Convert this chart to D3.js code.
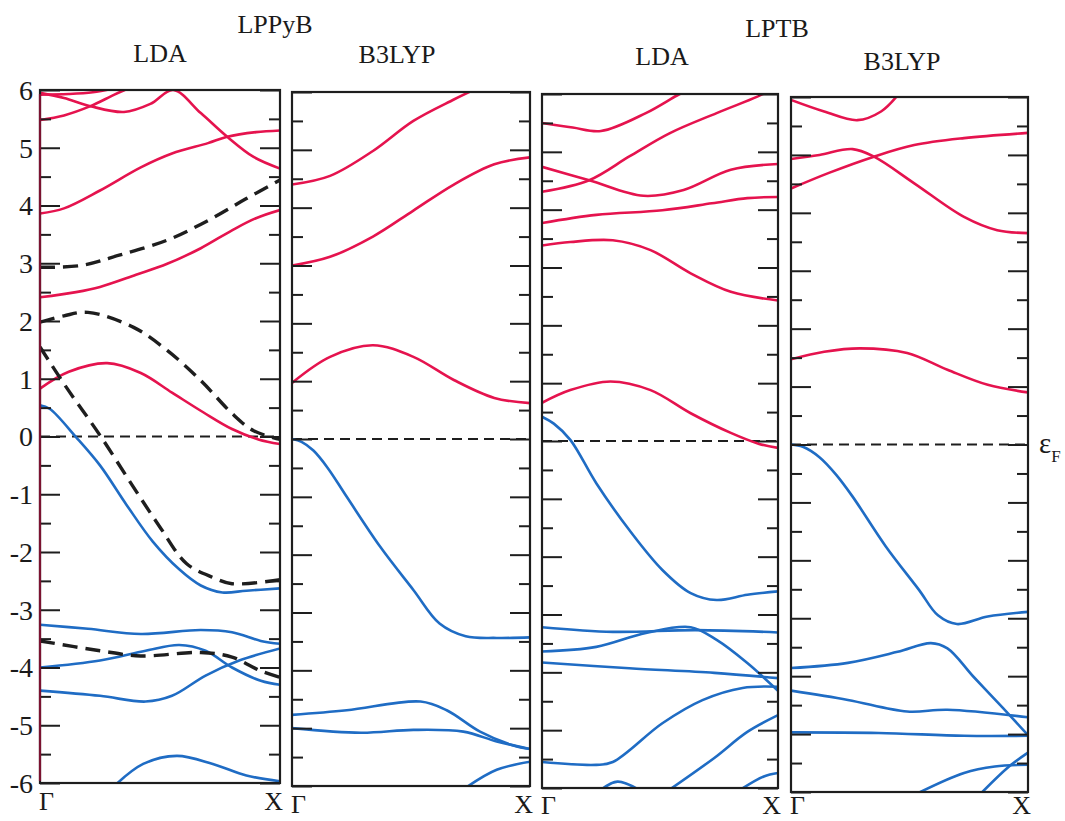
<!DOCTYPE html>
<html>
<head>
<meta charset="utf-8">
<script src="https://cdn.jsdelivr.net/npm/d3@7"></script>
<style>
  body { margin: 0; background: #fff; }
  text { font-family: "Liberation Serif", "Times New Roman", serif; fill: #1a1a1a; }
</style>
</head>
<body>
<svg id="chart" width="1065" height="821"></svg>
<script>
// Energy axis (eV relative to the Fermi level)
const energyTicks = [6, 5, 4, 3, 2, 1, 0, -1, -2, -3, -4, -5, -6];
const energyMinorTicks = [5.5, 4.5, 3.5, 2.5, 1.5, 0.5, -0.5, -1.5, -2.5, -3.5, -4.5, -5.5];
const kPointLabels = ["Γ", "X"];
const methodTitles = ["LDA", "B3LYP", "LDA", "B3LYP"];
const polymerTitles = ["LPPyB", "LPTB"];

// Bands along Γ→X; k runs from 0 (Γ) to 1 (X), values are energies in eV.
// LPPyB, LDA
const lppybLdaCond = [
  [[0, 0.83], [0.12, 1.12], [0.28, 1.27], [0.42, 1.1], [0.55, 0.76], [0.68, 0.42], [0.8, 0.13], [0.91, -0.05], [1, -0.13]],
  [[0, 2.41], [0.15, 2.5], [0.25, 2.59], [0.4, 2.8], [0.53, 2.99], [0.67, 3.26], [0.8, 3.57], [0.9, 3.78], [1, 3.92]],
  [[0, 3.86], [0.1, 3.95], [0.25, 4.26], [0.42, 4.66], [0.55, 4.9], [0.7, 5.08], [0.78, 5.19], [0.9, 5.27], [1, 5.3]],
  [[0, 5.92], [0.12, 5.93], [0.22, 5.96], [0.31, 6.03]],
  [[0, 5.95], [0.1, 5.86], [0.21, 5.72], [0.35, 5.62], [0.46, 5.76], [0.555, 6.0], [0.67, 5.6], [0.78, 5.19], [0.89, 4.84], [1, 4.64]],
  [[0, 5.48], [0.1, 5.56], [0.21, 5.72], [0.31, 5.92], [0.37, 6.03]]
];
const lppybLdaVal = [
  [[0, 0.54], [0.04, 0.48], [0.15, -0.01], [0.25, -0.5], [0.36, -1.18], [0.47, -1.82], [0.58, -2.3], [0.67, -2.58], [0.76, -2.7], [0.86, -2.67], [1, -2.63]],
  [[0, -3.26], [0.2, -3.33], [0.42, -3.42], [0.67, -3.35], [0.8, -3.39], [0.92, -3.54], [1, -3.59]],
  [[0, -4.0], [0.25, -3.88], [0.44, -3.71], [0.58, -3.61], [0.69, -3.71], [0.8, -4.0], [0.92, -4.23], [1, -4.3]],
  [[0, -4.4], [0.25, -4.49], [0.44, -4.59], [0.55, -4.49], [0.69, -4.14], [0.83, -3.88], [1, -3.67]],
  [[0.31, -6.05], [0.43, -5.67], [0.57, -5.53], [0.72, -5.67], [0.86, -5.87], [1, -5.97]]
];
const lppybLdaDashed = [
  [[0, 2.93], [0.17, 2.96], [0.33, 3.14], [0.53, 3.4], [0.7, 3.74], [0.86, 4.12], [1, 4.44]],
  [[0, 1.98], [0.1, 2.09], [0.2, 2.15], [0.39, 1.89], [0.53, 1.49], [0.67, 0.97], [0.8, 0.4], [0.89, 0.1], [1, -0.05]],
  [[0, 1.55], [0.11, 0.85], [0.25, 0.02], [0.39, -0.88], [0.5, -1.57], [0.61, -2.2], [0.72, -2.44], [0.8, -2.55], [1, -2.48]],
  [[0, -3.54], [0.25, -3.71], [0.42, -3.8], [0.67, -3.74], [0.8, -3.82], [0.92, -4.06], [1, -4.17]]
];

// LPPyB, B3LYP
const lppybB3lypCond = [
  [[0, 0.97], [0.16, 1.42], [0.34, 1.62], [0.51, 1.42], [0.68, 1.02], [0.85, 0.71], [1, 0.62]],
  [[0, 3.0], [0.16, 3.15], [0.34, 3.5], [0.51, 3.95], [0.68, 4.4], [0.85, 4.75], [1, 4.87]],
  [[0, 4.4], [0.16, 4.55], [0.34, 4.98], [0.51, 5.5], [0.68, 5.87], [0.76, 6.03]]
];
const lppybB3lypVal = [
  [[0, 0.0], [0.04, -0.05], [0.09, -0.2], [0.15, -0.5], [0.23, -1.0], [0.37, -1.86], [0.51, -2.61], [0.62, -3.19], [0.73, -3.41], [0.86, -3.44], [1, -3.43]],
  [[0, -4.77], [0.23, -4.69], [0.54, -4.54], [0.65, -4.69], [0.79, -5.06], [0.93, -5.3], [1, -5.36]],
  [[0, -5.0], [0.29, -5.08], [0.51, -5.03], [0.72, -5.06], [0.86, -5.23], [1, -5.36]],
  [[0.73, -6.03], [0.86, -5.72], [1, -5.58]]
];

// LPTB, LDA
const lptbLdaCond = [
  [[0, 0.66], [0.12, 0.88], [0.29, 1.03], [0.46, 0.88], [0.63, 0.48], [0.8, 0.14], [0.92, -0.05], [1, -0.12]],
  [[0, 3.38], [0.12, 3.44], [0.3, 3.47], [0.46, 3.3], [0.63, 2.9], [0.8, 2.58], [1, 2.43]],
  [[0, 3.77], [0.23, 3.91], [0.51, 3.99], [0.72, 4.11], [0.87, 4.2], [1, 4.22]],
  [[0, 4.74], [0.2, 4.51], [0.43, 4.24], [0.6, 4.34], [0.8, 4.69], [1, 4.79]],
  [[0, 4.31], [0.2, 4.51], [0.37, 4.92], [0.54, 5.32], [0.74, 5.67], [0.91, 5.95], [0.95, 6.03]],
  [[0, 5.5], [0.13, 5.42], [0.25, 5.36], [0.44, 5.67], [0.57, 5.97], [0.6, 6.03]]
];
const lptbLdaVal = [
  [[0, 0.42], [0.05, 0.3], [0.12, 0.02], [0.23, -0.73], [0.37, -1.54], [0.51, -2.23], [0.63, -2.63], [0.74, -2.75], [0.87, -2.66], [1, -2.6]],
  [[0, -3.22], [0.3, -3.3], [0.65, -3.27], [1, -3.31]],
  [[0, -3.64], [0.23, -3.56], [0.44, -3.32], [0.63, -3.22], [0.74, -3.44], [0.87, -3.84], [1, -4.32]],
  [[0, -3.83], [0.37, -3.93], [0.73, -4.01], [1, -4.1]],
  [[0, -5.55], [0.23, -5.6], [0.3, -5.55], [0.51, -4.88], [0.68, -4.48], [0.85, -4.27], [1, -4.25]],
  [[0.25, -6.03], [0.32, -5.89], [0.41, -6.03]],
  [[0.54, -6.03], [0.73, -5.48], [0.87, -5.03], [1, -4.74]],
  [[0.84, -6.03], [0.94, -5.8], [1, -5.74]]
];

// LPTB, B3LYP
const lptbB3lypCond = [
  [[0, 1.47], [0.14, 1.6], [0.29, 1.66], [0.49, 1.58], [0.66, 1.29], [0.83, 1.03], [1, 0.9]],
  [[0, 4.42], [0.16, 4.69], [0.35, 4.97], [0.52, 5.17], [0.73, 5.29], [1, 5.38]],
  [[0, 4.93], [0.12, 5.0], [0.26, 5.1], [0.35, 4.97], [0.52, 4.51], [0.73, 3.93], [0.87, 3.7], [1, 3.65]],
  [[0, 5.95], [0.14, 5.75], [0.28, 5.6], [0.38, 5.75], [0.45, 6.03]]
];
const lptbB3lypVal = [
  [[0, 0.0], [0.05, -0.04], [0.12, -0.22], [0.19, -0.52], [0.26, -0.9], [0.4, -1.76], [0.54, -2.51], [0.62, -2.95], [0.7, -3.1], [0.83, -2.97], [1, -2.89]],
  [[0, -3.86], [0.24, -3.77], [0.45, -3.58], [0.59, -3.43], [0.66, -3.52], [0.77, -4.01], [0.89, -4.53], [1, -5.02]],
  [[0, -4.25], [0.24, -4.41], [0.49, -4.61], [0.66, -4.58], [1, -4.71]],
  [[0, -4.97], [0.37, -4.98], [0.73, -5.03], [1, -5.03]],
  [[0.53, -6.03], [0.73, -5.67], [0.86, -5.56], [1, -5.53]],
  [[0.8, -6.03], [0.92, -5.56], [1, -5.32]]
];

// Panel frames
const panels = [
  { x0: 40,  x1: 280,  y0: 90, y1: 783, cond: lppybLdaCond,   val: lppybLdaVal,   dashed: lppybLdaDashed },
  { x0: 292, x1: 530,  y0: 92, y1: 786, cond: lppybB3lypCond, val: lppybB3lypVal, dashed: [] },
  { x0: 542, x1: 778,  y0: 94, y1: 788, cond: lptbLdaCond,    val: lptbLdaVal,    dashed: [] },
  { x0: 791, x1: 1028, y0: 97, y1: 792, cond: lptbB3lypCond,  val: lptbB3lypVal,  dashed: [] }
];
const methodTitlePos = [[160, 62], [397, 63], [662, 65], [902, 70]];
const polymerTitlePos = [[275, 33], [777, 37]];

const condColor = "#e5134e";
const valColor = "#1f6cc4";
const inkColor = "#1e1e1e";

const svg = d3.select("#chart");

panels.forEach((p, i) => {
  const x = d3.scaleLinear().domain([0, 1]).range([p.x0, p.x1]);
  const y = d3.scaleLinear().domain([-6, 6]).range([p.y1, p.y0]);
  const line = d3.line().x(d => x(d[0])).y(d => y(d[1])).curve(d3.curveCatmullRom.alpha(0.5));

  const clipId = "clip" + i;
  svg.append("clipPath").attr("id", clipId)
    .append("rect").attr("x", p.x0).attr("y", p.y0)
    .attr("width", p.x1 - p.x0).attr("height", p.y1 - p.y0);

  const g = svg.append("g");
  const plot = g.append("g").attr("clip-path", `url(#${clipId})`);

  // Fermi level
  plot.append("path")
    .attr("d", line([[0, 0], [1, 0]]))
    .attr("fill", "none").attr("stroke", inkColor)
    .attr("stroke-width", 2).attr("stroke-dasharray", "10,6");

  plot.selectAll(".val").data(p.val).join("path")
    .attr("class", "val").attr("d", line)
    .attr("fill", "none").attr("stroke", valColor).attr("stroke-width", 2.6);

  plot.selectAll(".cond").data(p.cond).join("path")
    .attr("class", "cond").attr("d", line)
    .attr("fill", "none").attr("stroke", condColor).attr("stroke-width", 2.6);

  plot.selectAll(".dashed").data(p.dashed).join("path")
    .attr("class", "dashed").attr("d", line)
    .attr("fill", "none").attr("stroke", inkColor)
    .attr("stroke-width", 3.4).attr("stroke-dasharray", "15,8");

  // inward ticks on both sides
  const tickAxes = [
    [d3.axisRight(y).tickValues(energyTicks).tickSize(20), p.x0],
    [d3.axisRight(y).tickValues(energyMinorTicks).tickSize(11), p.x0],
    [d3.axisLeft(y).tickValues(energyTicks).tickSize(20), p.x1],
    [d3.axisLeft(y).tickValues(energyMinorTicks).tickSize(11), p.x1]
  ];
  tickAxes.forEach(([ax, xpos]) => {
    const a = g.append("g").attr("transform", `translate(${xpos},0)`)
      .call(ax.tickFormat(""));
    a.select(".domain").remove();
    a.selectAll("line").attr("stroke", inkColor).attr("stroke-width", 2);
  });

  // frame
  g.append("rect")
    .attr("x", p.x0).attr("y", p.y0)
    .attr("width", p.x1 - p.x0).attr("height", p.y1 - p.y0)
    .attr("fill", "none").attr("stroke", inkColor).attr("stroke-width", 2.2);
  if (i === 0) {
    g.append("line").attr("x1", p.x0).attr("x2", p.x0)
      .attr("y1", p.y0 + 4).attr("y2", p.y1 - 2)
      .attr("stroke", "#7a1230").attr("stroke-width", 2.2);
  }

  // k-point labels
  const kBase = Math.min(p.y1 + 27, 814);
  g.append("text").attr("x", p.x0 - 1).attr("y", kBase)
    .attr("font-size", 26).attr("text-anchor", "start").text(kPointLabels[0]);
  g.append("text").attr("x", p.x1 + 3).attr("y", kBase)
    .attr("font-size", 26).attr("text-anchor", "end").text(kPointLabels[1]);

  // energy labels on the first panel
  if (i === 0) {
    g.selectAll(".elab").data(energyTicks).join("text")
      .attr("class", "elab")
      .attr("x", p.x0 - 7).attr("y", d => y(d))
      .attr("dy", "0.35em").attr("text-anchor", "end")
      .attr("font-size", 28).text(d => d < 0 ? "-" + Math.abs(d) : String(d));
  }

  // method title
  svg.append("text").attr("x", methodTitlePos[i][0]).attr("y", methodTitlePos[i][1])
    .attr("text-anchor", "middle").attr("font-size", 26).text(methodTitles[i]);
});

polymerTitles.forEach((t, i) => {
  svg.append("text").attr("x", polymerTitlePos[i][0]).attr("y", polymerTitlePos[i][1])
    .attr("text-anchor", "middle").attr("font-size", 26).text(t);
});

// Fermi level label
const fermiLabel = svg.append("text").attr("x", 1039).attr("y", 453).attr("font-size", 29);
fermiLabel.append("tspan").text("ε");
fermiLabel.append("tspan").attr("dy", 9).attr("font-size", 17).text("F");
</script>
</body>
</html>
